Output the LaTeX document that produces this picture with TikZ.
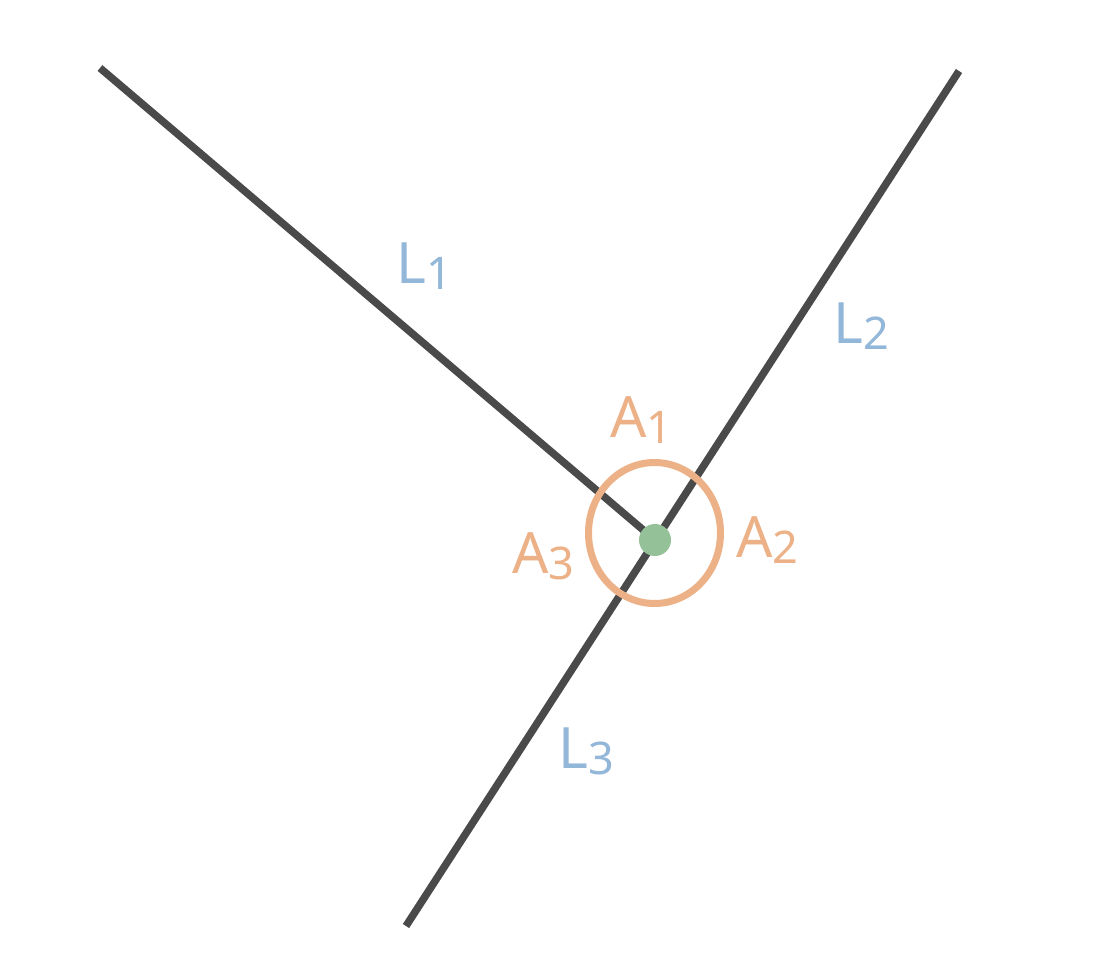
\documentclass[tikz,border=0pt]{standalone}
\usepackage{fontspec}
\setmainfont{Noto Sans}
\definecolor{linec}{HTML}{4A4A4A}
\definecolor{arcc}{HTML}{EDB187}
\definecolor{dotc}{HTML}{95C198}
\definecolor{bluec}{HTML}{93B7D9}
\newcommand\lab[2]{#1\raisebox{-6pt}{\fontsize{45}{45}\selectfont #2}}
\tikzset{
  seg/.style={draw=linec, line width=7.5pt},
  anglering/.style={draw=arcc, line width=7pt},
  lbl/.style={inner sep=0pt, anchor=base west, font=\fontsize{57}{60}\selectfont},
  linelbl/.style={lbl, text=bluec},
  anglelbl/.style={lbl, text=arcc}
}
\begin{document}
\begin{tikzpicture}[x=1pt,y=-1pt]
\useasboundingbox[fill=white] (0,0) rectangle (1095,960);
\coordinate (c) at (655,540);
\coordinate (p1) at (100,68);
\coordinate (p2) at (959,71);
\coordinate (p3) at (406,926);
\draw[seg] (p1) -- (c);
\draw[seg] (p2) -- (p3);
\draw[anglering] (654.5,533) ellipse [x radius=66pt, y radius=70.5pt];
\fill[dotc] (c) circle [radius=16pt];
\node[linelbl] (l1) at (396,283) {\lab{L}{1}};
\node[linelbl] (l2) at (833,343) {\lab{L}{2}};
\node[linelbl] (l3) at (558,768) {\lab{L}{3}};
\node[anglelbl] (a1) at (610,437) {\lab{A}{1}};
\node[anglelbl] (a2) at (736,557) {\lab{A}{2}};
\node[anglelbl] (a3) at (512,573) {\lab{A}{3}};
\end{tikzpicture}
\end{document}
